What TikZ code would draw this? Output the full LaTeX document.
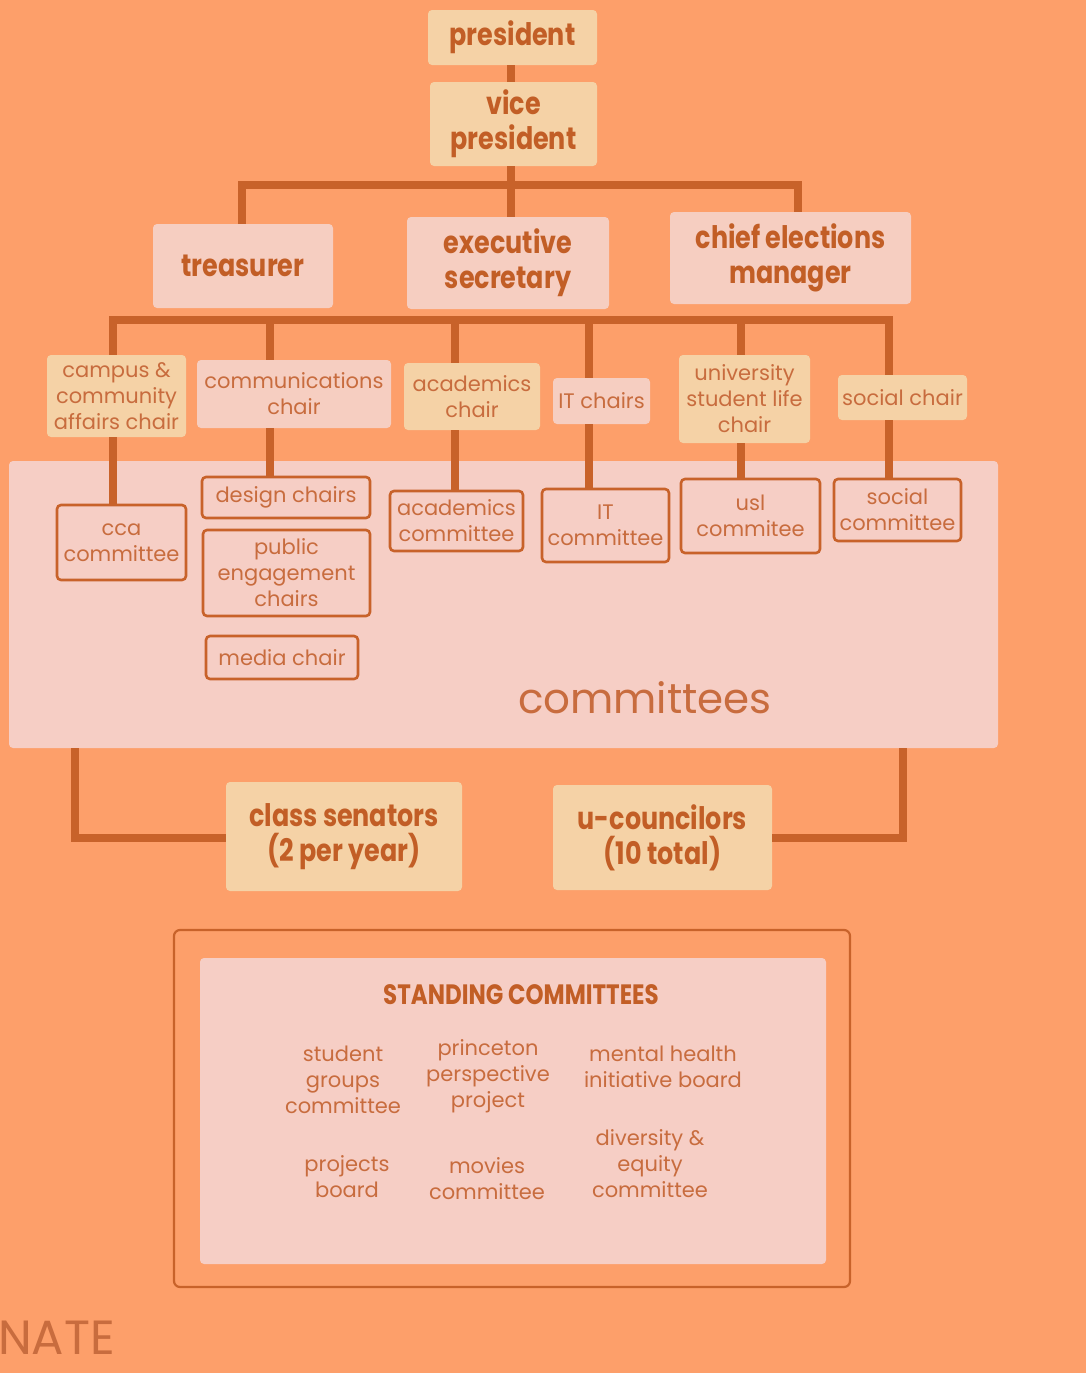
\documentclass[tikz,border=0pt]{standalone}
\usepackage{fontspec}
\setmainfont{Poppins}
\newfontfamily\cond[FakeStretch=0.82]{Poppins}
\definecolor{bgc}{RGB}{253,159,106}
\definecolor{linec}{RGB}{200,98,42}
\definecolor{txtc}{RGB}{200,108,62}
\definecolor{btxt}{RGB}{194,94,38}
\definecolor{tanc}{RGB}{245,210,166}
\definecolor{pinkc}{RGB}{246,206,193}
\definecolor{panelc}{RGB}{246,206,197}
\newcommand\bx[7]{%
 \pgfmathsetmacro\bw{#4-#2}\pgfmathsetmacro\bh{#5-#3}%
 \node[#1, minimum width=\bw pt, minimum height=\bh pt] (#6) at ({(#2+#4)/2},{(#3+#5)/2}) {#7};}
\tikzset{
 base/.style={inner sep=0pt, align=center, rounded corners=4pt},
 bigtan/.style={base, fill=tanc, text=btxt, font=\cond\bfseries\fontsize{31}{35}\selectfont},
 bigpink/.style={base, fill=pinkc, text=btxt, font=\cond\bfseries\fontsize{31}{35}\selectfont},
 chairtan/.style={base, fill=tanc, text=txtc, font=\fontsize{21}{26}\selectfont},
 chairpink/.style={base, fill=pinkc, text=txtc, font=\fontsize{21}{26}\selectfont},
 combox/.style={base, fill=panelc, draw=linec, line width=2.6pt, text=txtc, font=\fontsize{21}{26}\selectfont},
 conn/.style={draw=linec, line width=8.5pt},
 plain/.style={inner sep=0pt, align=center, text=txtc, font=\fontsize{21}{26}\selectfont},
}
\begin{document}
\begin{tikzpicture}[x=1pt,y=-1pt]
\fill[bgc] (0,0) rectangle (1086,1373);
\useasboundingbox (0,0) rectangle (1086,1373);
% committees panel
\bx{base, fill=panelc}{9}{461}{998}{748}{panel}{}
\node[plain, font=\fontsize{42}{44}\selectfont] (comlabel) at (645,698) {committees};
% coordinates
\coordinate (b1l) at (242,185);
\coordinate (b1r) at (798,185);
\coordinate (b1m) at (511,185);
\coordinate (c2l) at (113,320);
\coordinate (c2b) at (270,320);
\coordinate (c2c) at (455,320);
\coordinate (c2d) at (589,320);
\coordinate (c2e) at (741,320);
\coordinate (c2r) at (889,320);
\coordinate (lb) at (75,838);
\coordinate (rb) at (903,838);
% top boxes
\bx{bigtan}{428}{10}{597}{65}{pres}{president}
\bx{bigtan}{430}{82}{597}{166}{vp}{vice\\president}
\bx{bigpink}{153}{224}{333}{308}{treas}{treasurer}
\bx{bigpink}{407}{217}{609}{309}{exec}{executive\\secretary}
\bx{bigpink}{670}{212}{911}{304}{chief}{chief elections\\manager}
% connectors top
\draw[conn] (pres.south -| b1m) -- (vp.north -| b1m);
\draw[conn] (vp.south -| b1m) -- (b1m);
\draw[conn, line join=miter] (treas.north -| b1l) -- (b1l) -- (b1r) -- (chief.north -| b1r);
\draw[conn] (b1m) -- (exec.north -| b1m);
\draw[conn, line join=miter] (c2l |- 0,355) -- (c2l) -- (c2r) -- (c2r |- 0,375);
\draw[conn] (c2b) -- (c2b |- 0,360);
\draw[conn] (c2c) -- (c2c |- 0,363);
\draw[conn] (c2d) -- (c2d |- 0,378);
\draw[conn] (c2e) -- (c2e |- 0,355);
% chair row
\bx{chairtan}{47}{355}{186}{437}{campus}{campus \&\\community\\affairs chair}
\bx{chairpink}{197}{360}{391}{428}{comm}{communications\\chair}
\bx{chairtan}{404}{363}{540}{430}{acad}{academics\\chair}
\bx{chairpink}{553}{378}{650}{424}{itc}{IT chairs}
\bx{chairtan}{679}{355}{810}{443}{usl}{university\\student life\\chair}
\bx{chairtan}{838}{375}{967}{420}{social}{social chair}
% committee boxes
\bx{combox}{57}{505}{186}{580}{cca}{cca\\committee}
\bx{combox}{202}{477}{370}{518}{design}{design chairs}
\bx{combox}{203}{530}{370}{616}{pub}{public\\engagement\\chairs}
\bx{combox}{206}{636}{358}{679}{media}{media chair}
\bx{combox}{390}{491}{523}{551}{acadcom}{academics\\committee}
\bx{combox}{542}{489}{669}{562}{itcom}{IT\\committee}
\bx{combox}{681}{479}{820}{553}{uslcom}{usl\\commitee}
\bx{combox}{834}{479}{961}{541}{soccom}{social\\committee}
% chair to committee
\draw[conn] (campus.south -| c2l) -- (cca.north -| c2l);
\draw[conn] (comm.south -| c2b) -- (design.north -| c2b);
\draw[conn] (acad.south -| c2c) -- (acadcom.north -| c2c);
\draw[conn] (itc.south -| c2d) -- (itcom.north -| c2d);
\draw[conn] (usl.south -| c2e) -- (uslcom.north -| c2e);
\draw[conn] (social.south -| c2r) -- (soccom.north -| c2r);
% senators
\bx{bigtan}{226}{782}{462}{891}{sen}{class senators\\(2 per year)}
\bx{bigtan}{553}{785}{772}{890}{ucoun}{u-councilors\\(10 total)}
\draw[conn, line join=miter] (panel.south -| lb) -- (lb) -- (sen.west |- lb);
\draw[conn, line join=miter] (panel.south -| rb) -- (rb) -- (ucoun.east |- rb);
% standing committees
\bx{base, draw=linec, line width=2.2pt, rounded corners=6pt}{174}{930}{850}{1287}{outer}{}
\bx{base, fill=panelc}{200}{958}{826}{1264}{inner}{}
\node[plain, text=btxt, font=\cond\bfseries\fontsize{28}{30}\selectfont] (sctitle) at (521,995) {STANDING COMMITTEES};
\node[plain] (sg) at (343,1080) {student\\groups\\committee};
\node[plain] (ppp) at (488,1076) {princeton\\perspective\\project};
\node[plain] (mh) at (663,1067) {mental health\\initiative board};
\node[plain] (pb) at (347,1177) {projects\\board};
\node[plain] (mov) at (487,1179) {movies\\committee};
\node[plain] (div) at (650,1164) {diversity \&\\equity\\committee};
\node[plain, anchor=west, font=\fontsize{48}{50}\selectfont] (nate) at (-2,1338) {NATE};
\end{tikzpicture}
\end{document}
